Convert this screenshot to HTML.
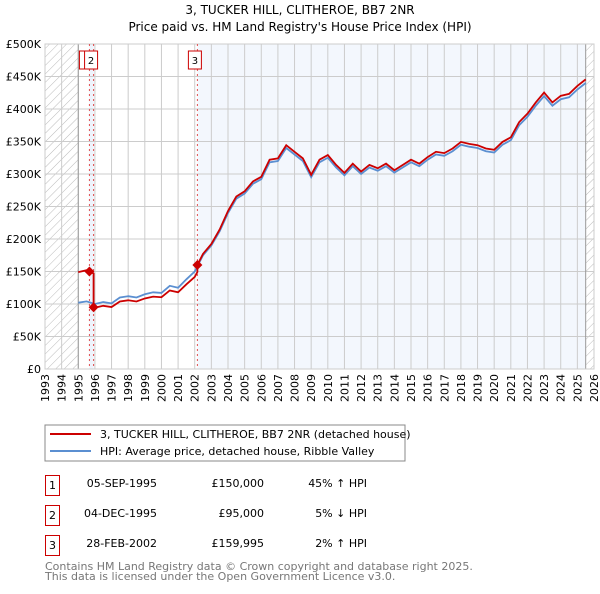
<!DOCTYPE html>
<html><head><meta charset="utf-8"><style>
body{margin:0;background:#fff;font-family:"DejaVu Sans","Liberation Sans",sans-serif;}
svg text{font-family:"DejaVu Sans","Liberation Sans",sans-serif;}
</style></head><body>
<svg id="c" width="600" height="590" xmlns="http://www.w3.org/2000/svg">
<defs><pattern id="h" width="6" height="6" patternUnits="userSpaceOnUse" patternTransform="rotate(45)"><line x1="0" y1="0" x2="0" y2="6" stroke="#aaa" stroke-width="0.8"/></pattern></defs>
<text x="300" y="14" text-anchor="middle" font-size="12">3, TUCKER HILL, CLITHEROE, BB7 2NR</text>
<text x="300" y="31" text-anchor="middle" font-size="12">Price paid vs. HM Land Registry's House Price Index (HPI)</text>
<g id="plot"></g>
<g>
<rect x="45" y="425" width="360" height="36" fill="#fff" stroke="#888"/>
<line x1="50" y1="434" x2="91" y2="434" stroke="#cc0000" stroke-width="2"/>
<text x="100" y="438" font-size="11">3, TUCKER HILL, CLITHEROE, BB7 2NR (detached house)</text>
<line x1="50" y1="451" x2="91" y2="451" stroke="#5b8fd1" stroke-width="2"/>
<text x="100" y="455" font-size="11">HPI: Average price, detached house, Ribble Valley</text>
</g>
<g font-size="11">
<rect x="45.5" y="475.5" width="14" height="20" fill="none" stroke="#c00"/><text x="52.5" y="489" text-anchor="middle">1</text>
<text x="157" y="487" text-anchor="end">05-SEP-1995</text><text x="264" y="487" text-anchor="end">£150,000</text><text x="367" y="487" text-anchor="end">45% ↑ HPI</text>
<rect x="45.5" y="505.5" width="14" height="20" fill="none" stroke="#c00"/><text x="52.5" y="519" text-anchor="middle">2</text>
<text x="157" y="517" text-anchor="end">04-DEC-1995</text><text x="264" y="517" text-anchor="end">£95,000</text><text x="367" y="517" text-anchor="end">5% ↓ HPI</text>
<rect x="45.5" y="535.5" width="14" height="20" fill="none" stroke="#c00"/><text x="52.5" y="549" text-anchor="middle">3</text>
<text x="157" y="547" text-anchor="end">28-FEB-2002</text><text x="264" y="547" text-anchor="end">£159,995</text><text x="367" y="547" text-anchor="end">2% ↑ HPI</text>
</g>
<text x="45" y="570" font-size="11" fill="#777">Contains HM Land Registry data © Crown copyright and database right 2025.</text>
<text x="45" y="580" font-size="11" fill="#777">This data is licensed under the Open Government Licence v3.0.</text>
</svg>
<script>
const hpiStart = 1995.0;
const hpiStep = 0.5;
const hpiValues = [102,104,100,103,101,110,112,110,115,118,117,128,125,138,150,175,190,212,240,262,270,285,292,318,320,340,330,320,295,318,325,310,298,312,300,310,305,312,302,310,318,312,322,330,328,335,345,342,340,335,333,345,352,375,388,405,420,405,415,418,430,440];
const saleYears = [1995.67, 1995.92, 2002.16];
const salePrices = [150, 95, 159.995];
const saleLabels = ["1","2","3"];
const yTicks = [0,50,100,150,200,250,300,350,400,450,500];
const yTickLabels = ["£0","£50K","£100K","£150K","£200K","£250K","£300K","£350K","£400K","£450K","£500K"];
const xYears = [1993,1994,1995,1996,1997,1998,1999,2000,2001,2002,2003,2004,2005,2006,2007,2008,2009,2010,2011,2012,2013,2014,2015,2016,2017,2018,2019,2020,2021,2022,2023,2024,2025,2026];

const L=45,R=594,T=44,B=369;
const x=t=>L+(t-1993)/33*(R-L);
const y=v=>B-v/500*(B-T);
const NS="http://www.w3.org/2000/svg";
const g=document.getElementById('plot');
function mk(tag,a,p){const e=document.createElementNS(NS,tag);for(const k in a)e.setAttribute(k,a[k]);(p||g).appendChild(e);return e;}
mk('rect',{x:L,y:T,width:R-L,height:B-T,fill:'#fff'});
const sh=mk('rect',{x:x(saleYears[2]),y:T,width:x(2025.5)-x(saleYears[2]),height:B-T,fill:'#eef3fc',opacity:0.7});


mk('rect',{x:x(saleYears[0]),y:T,width:x(saleYears[1])-x(saleYears[0]),height:B-T,fill:'#eef3fc'});
const h1=mk('rect',{x:L,y:T,width:x(1995)-L,height:B-T,fill:'url(#h)'});


const h2=mk('rect',{x:x(2025.5),y:T,width:R-x(2025.5),height:B-T,fill:'url(#h)'});


xYears.forEach(t=>{mk('line',{x1:x(t),x2:x(t),y1:T,y2:B,stroke:'#ccc','stroke-width':1});
 const tx=mk('text',{transform:`translate(${x(t)+4},${B+5}) rotate(-90)`,'text-anchor':'end','font-size':11});tx.textContent=t;
 
 });
yTicks.forEach((v,i)=>{mk('line',{x1:L,x2:R,y1:y(v),y2:y(v),stroke:'#ccc','stroke-width':1});
 const tx=mk('text',{x:L-4,y:y(v)+4,'text-anchor':'end','font-size':11});tx.textContent=yTickLabels[i];
 
 });
mk('line',{x1:x(1995),x2:x(1995),y1:T,y2:B,stroke:'#999'});
mk('line',{x1:x(2025.5),x2:x(2025.5),y1:T,y2:B,stroke:'#999'});
mk('rect',{x:L,y:T,width:R-L,height:B-T,fill:'none',stroke:'#ccc'});
saleYears.forEach((t,i)=>{const l=mk('line',{x1:x(t),x2:x(t),y1:T,y2:B,stroke:'#e05050','stroke-dasharray':'2,3'});
 
 });
function hpiAt(t){const f=(t-hpiStart)/hpiStep;const i=Math.max(0,Math.min(hpiValues.length-2,Math.floor(f)));const r=f-i;return hpiValues[i]*(1-r)+hpiValues[i+1]*r;}
const ts=hpiValues.map((v,i)=>hpiStart+i*hpiStep);
let bp=ts.map((t,i)=>`${x(t)},${y(hpiValues[i])}`).join(' ');
const bl=mk('polyline',{points:bp,fill:'none',stroke:'#5b8fd1','stroke-width':1.8});


function ratio(t){let k=-1;for(let i=0;i<saleYears.length;i++)if(saleYears[i]<=t)k=i;if(k<0)k=0;return salePrices[k]/hpiAt(saleYears[k]);}
let pts=[];
const allT=ts.concat(saleYears).sort((a,b)=>a-b);
allT.forEach(t=>{
 const idx=saleYears.indexOf(t);
 if(idx>0){pts.push([t,salePrices[idx-1]/hpiAt(saleYears[idx-1])*hpiAt(t)]);}
 pts.push([t,ratio(t)*hpiAt(t)]);
});
const rl=mk('polyline',{points:pts.map(p=>`${x(p[0])},${y(p[1])}`).join(' '),fill:'none',stroke:'#cc0000','stroke-width':1.8});


saleYears.forEach((t,i)=>{
 const cx=x(t),cy=y(salePrices[i]);
 const c=mk('polygon',{points:`${cx},${cy-5} ${cx+5},${cy} ${cx},${cy+5} ${cx-5},${cy}`,fill:'#cc0000'});
 
 
 const r=mk('rect',{x:i===0?x(t)-10:x(t)-9,y:51,width:i===0?6:13,height:18,fill:'#fff',stroke:'#c00'});
 
 
 if(i>0){const tx=mk('text',{x:x(t)-2.5,y:64,'text-anchor':'middle','font-size':10});tx.textContent=saleLabels[i];
 
 }
});
</script>
</body></html>
